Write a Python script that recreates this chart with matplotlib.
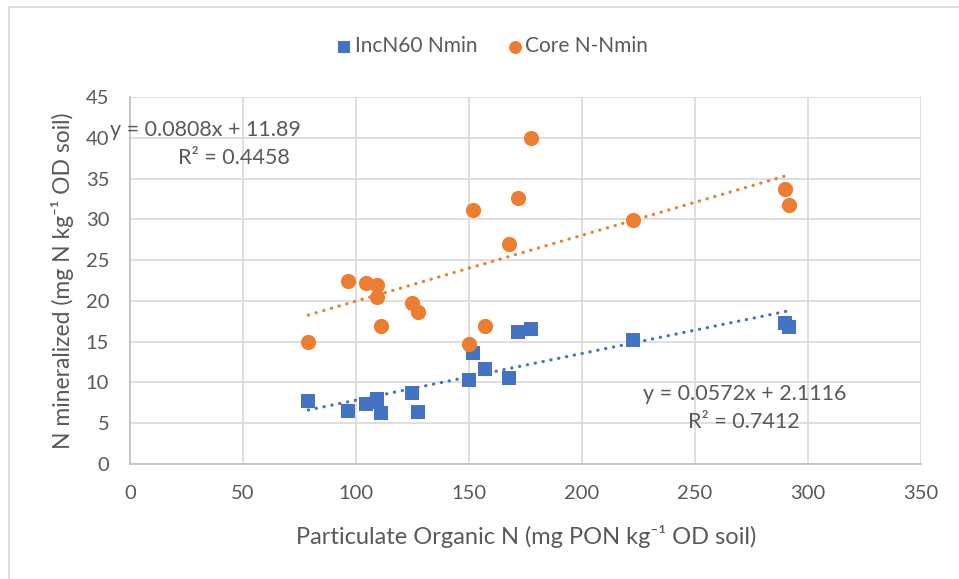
import numpy as np
import matplotlib
matplotlib.use('Agg')
import matplotlib.pyplot as plt
from matplotlib.patches import Rectangle

plt.rcParams['font.family'] = ['Lato', 'DejaVu Sans']

#==============================================================================
# Data
#==============================================================================
pon = [78.9, 96.3, 104.6, 109.4, 109.4, 110.9, 124.8, 127.3, 150.0, 151.6,
       157.1, 167.8, 171.5, 177.6, 222.4, 290.0, 291.6]
incn60 = [7.7, 6.5, 7.4, 8.0, 7.6, 6.3, 8.7, 6.4, 10.3, 13.6,
          11.7, 10.6, 16.2, 16.6, 15.2, 17.3, 16.8]
core = [15.0, 22.4, 22.2, 21.9, 20.5, 16.9, 19.8, 18.65, 14.7, 31.1,
        16.9, 27.0, 32.6, 40.0, 29.9, 33.7, 31.7]

# trendline coefficients as printed on the chart
incn60_fit = (0.0572, 2.1116, 0.7412)
core_fit = (0.0808, 11.89, 0.4458)

series_names = ['IncN60 Nmin', 'Core N-Nmin']
x_ticks = np.arange(0, 351, 50)
y_ticks = np.arange(0, 46, 5)

blue = '#4472C4'
orange = '#ED7D31'
txt = '#595959'
grid = '#D9D9D9'

#==============================================================================
# Figure
#==============================================================================
fig = plt.figure(figsize=(9.59, 5.79), dpi=100)
W, H = 959, 579
ax = fig.add_axes([130 / W, (H - 464) / H, 791 / W, 367 / H])

fig.patches.append(Rectangle((9 / W, -0.1), 1.2, 1 - 7 / H + 0.1,
                             transform=fig.transFigure, fill=False,
                             edgecolor=grid, linewidth=1.2))

ax.scatter(pon, incn60, marker='s', s=115, color=blue, zorder=3,
           label=series_names[0], linewidths=0)
ax.scatter(pon, core, marker='o', s=120, color=orange, zorder=3,
           label=series_names[1], linewidths=0)

xfit = np.array([min(pon), max(pon)])
for (m, b, r2), col in [(incn60_fit, blue), (core_fit, orange)]:
    ax.plot(xfit, m * xfit + b, color=col, linewidth=2.3,
            linestyle=(0, (0.1, 2.4)), dash_capstyle='round', zorder=2)

ax.set_xlim(0, 350)
ax.set_ylim(0, 45)
ax.set_xticks(x_ticks)
ax.set_yticks(y_ticks)
ax.grid(True, color=grid, linewidth=1.2)
ax.set_axisbelow(True)
for side in ['top', 'right']:
    ax.spines[side].set_visible(False)
for side in ['left', 'bottom']:
    ax.spines[side].set_color('#BFBFBF')
    ax.spines[side].set_linewidth(1.2)
ax.tick_params(length=0, labelsize=14.5, labelcolor=txt)
ax.tick_params(axis='x', pad=15)
ax.tick_params(axis='y', pad=15)

# equations
eq_size = 15.5
ax.text(33.5, 40.9, 'y = 0.0808x + 11.89', fontsize=eq_size, color=txt,
        ha='center', va='center')
ax.text(46, 37.55, 'R² = 0.4458', fontsize=eq_size, color=txt,
        ha='center', va='center')
ax.text(272, 8.6, 'y = 0.0572x + 2.1116', fontsize=eq_size, color=txt,
        ha='center', va='center')
ax.text(271.7, 5.15, 'R² = 0.7412', fontsize=eq_size, color=txt,
        ha='center', va='center')

fig.text(526 / W, 1 - 536 / H, 'Particulate Organic N (mg PON kg⁻¹ OD soil)',
         fontsize=17, color=txt, ha='center', va='center')
fig.text(62 / W, 1 - 281 / H, 'N mineralized (mg N kg⁻¹ OD soil)',
         fontsize=16.5, color=txt, ha='center', va='center', rotation=90)

leg = fig.legend(loc='center', bbox_to_anchor=(491 / W, 1 - 46 / H), ncol=2,
                 frameon=False, fontsize=15, handletextpad=0.0,
                 columnspacing=1.3, markerscale=0.85, handlelength=1.0)
for t in leg.get_texts():
    t.set_color(txt)

fig.savefig('out.png', dpi=100)
